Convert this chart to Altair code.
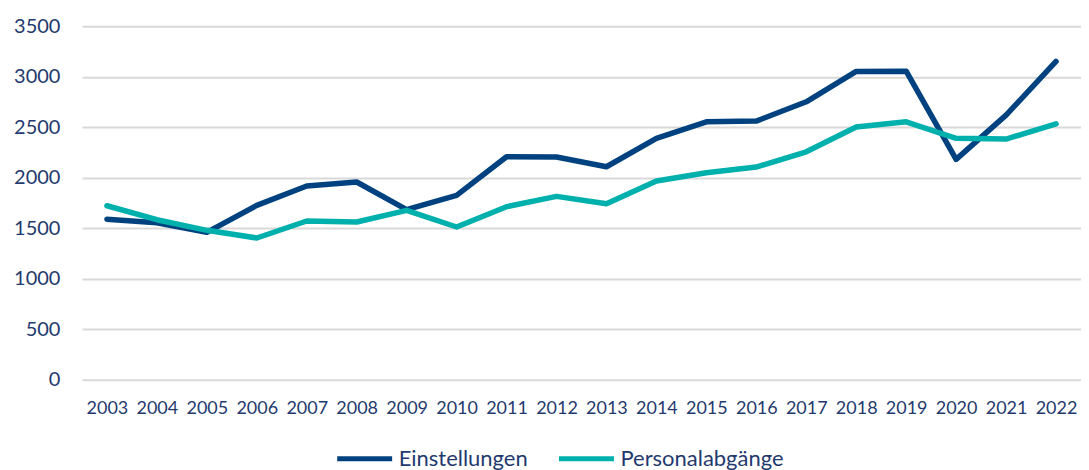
import altair as alt
import pandas as pd

years = [str(y) for y in range(2003, 2023)]
einstellungen = [1590, 1555, 1460, 1727, 1918, 1958, 1685, 1826, 2208, 2205,
                 2109, 2390, 2554, 2561, 2752, 3052, 3055, 2182, 2620, 3151]
personalabgaenge = [1723, 1585, 1480, 1404, 1572, 1562, 1678, 1513, 1714, 1816,
                    1743, 1968, 2050, 2106, 2257, 2502, 2554, 2390, 2383, 2534]
series = ["Einstellungen", "Personalabgänge"]
colors = ["#00427F", "#00B0AD"]
text_color = "#1F3A6E"

df = pd.DataFrame({
    "Jahr": years * 2,
    "Wert": einstellungen + personalabgaenge,
    "Serie": [series[0]] * len(years) + [series[1]] * len(years),
})

chart = alt.Chart(df).mark_line(strokeWidth=5.5, strokeCap="round", strokeJoin="round").encode(
    x=alt.X("Jahr:O", sort=years, title=None,
            scale=alt.Scale(type="point", padding=0.5),
            axis=alt.Axis(labelAngle=0, labelFontSize=18, labelPadding=20, ticks=False,
                          domain=False, grid=False, labelColor=text_color, labelFont="Lato")),
    y=alt.Y("Wert:Q", title=None,
            scale=alt.Scale(domain=[0, 3500]),
            axis=alt.Axis(values=[0, 500, 1000, 1500, 2000, 2500, 3000, 3500], format="d",
                          labelFontSize=20, labelPadding=22, ticks=False, domain=False,
                          gridColor="#D9D9D9", gridWidth=2, labelColor=text_color,
                          labelFont="Lato")),
    color=alt.Color("Serie:N", sort=series,
                    scale=alt.Scale(domain=series, range=colors),
                    legend=alt.Legend(orient="none", legendX=253, legendY=403,
                                      direction="horizontal", title=None, padding=0,
                                      symbolType="stroke", symbolSize=3025, symbolStrokeWidth=5,
                                      labelFontSize=22, labelColor=text_color, labelFont="Lato",
                                      labelLimit=400, columnPadding=20, labelOffset=4)),
).properties(
    width=1000, height=354, padding={"left": 5, "top": 8, "right": 0, "bottom": 0}
).configure_view(stroke=None)

chart.save("out.html", embed_options={"renderer": "svg", "actions": False})
